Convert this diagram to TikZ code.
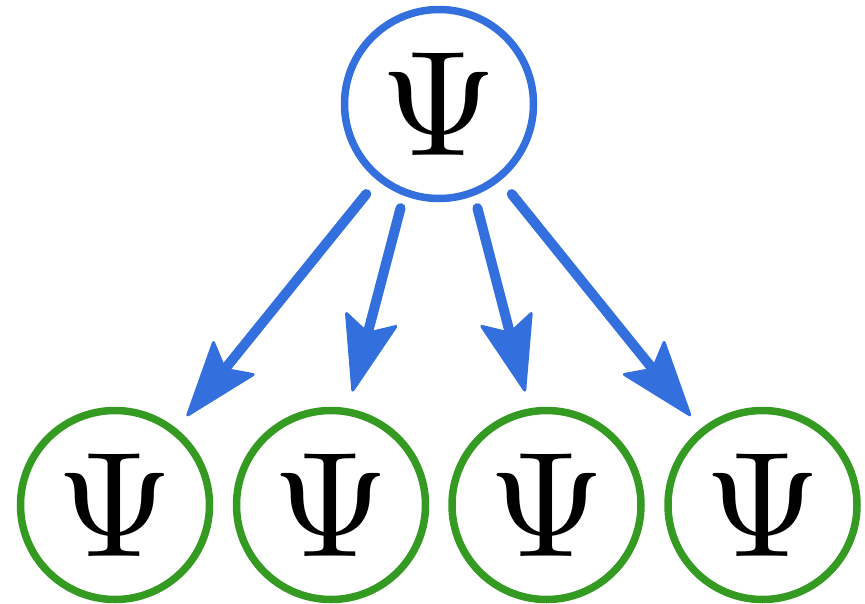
\documentclass[tikz,border=0pt]{standalone}
\usetikzlibrary{arrows.meta}
\definecolor{ablue}{RGB}{51,111,221}
\definecolor{agreen}{RGB}{52,154,34}
\newcommand{\bigpsi}{\scalebox{15}{$\Psi$}}
\begin{document}
\begin{tikzpicture}[x=1pt,y=-1pt,
  psinode/.style={circle, draw=#1, line width=7.5pt, minimum size=189pt, inner sep=0pt},
  arr/.style={draw=ablue, line width=10pt, line cap=round,
    -{Stealth[length=80pt, width=56pt, inset=15pt, round, line width=3pt]}}]
\useasboundingbox (0,0) rectangle (865,603);
\node[psinode=ablue] (top) at (439,104) {\bigpsi};
\node[psinode=agreen] (b1) at (115,505) {\bigpsi};
\node[psinode=agreen] (b2) at (331,505) {\bigpsi};
\node[psinode=agreen] (b3) at (546.5,505) {\bigpsi};
\node[psinode=agreen] (b4) at (762.5,505) {\bigpsi};
\draw[arr, shorten <=17.5pt, shorten >=16pt] (top) -- (b1);
\draw[arr, shorten <=12.8pt, shorten >=17.2pt] (top.-111) -- (b2.80);
\draw[arr, shorten <=12.8pt, shorten >=17.2pt] (top.-69) -- (b3.100);
\draw[arr, shorten <=17.5pt, shorten >=16pt] (top) -- (b4);
\end{tikzpicture}
\end{document}
